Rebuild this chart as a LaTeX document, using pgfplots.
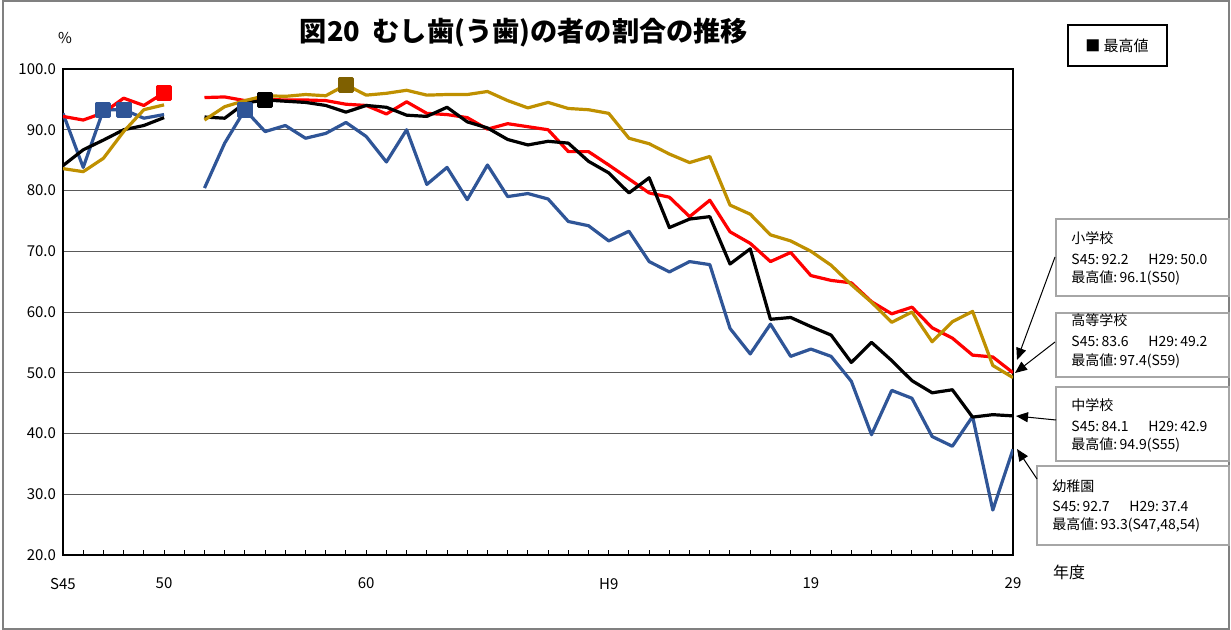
\documentclass[border=0pt]{standalone}
\usepackage{fontspec}
\setmainfont{Noto Sans CJK JP}
\usepackage{pgfplots}
\pgfplotsset{compat=1.18}
\usepackage{pgfplotstable}
\usetikzlibrary{arrows.meta}
\definecolor{kblue}{HTML}{2F5597}
\definecolor{kgold}{HTML}{BF9000}
\definecolor{kdark}{HTML}{7F6000}

% year, 小学校, 中学校, 高等学校, 幼稚園 (%)
\pgfplotstableread{
year sho chu ko yo
1970 92.2 84.1 83.6 92.7
1971 91.6 86.7 83.1 83.8
1972 92.8 88.3 85.3 93.3
1973 95.2 90.0 89.7 93.3
1974 94.0 90.7 93.3 91.9
1975 96.1 92.0 94.1 92.5
1976 nan nan nan nan
1977 95.3 92.1 91.6 80.4
1978 95.4 91.9 93.8 87.8
1979 94.8 94.4 94.8 93.3
1980 95.0 94.9 95.6 89.7
1981 94.9 94.7 95.5 90.7
1982 94.9 94.5 95.8 88.6
1983 94.8 94.0 95.6 89.4
1984 94.2 92.9 97.4 91.2
1985 94.0 94.0 95.7 88.9
1986 92.6 93.7 96.0 84.7
1987 94.6 92.4 96.5 90.0
1988 92.7 92.2 95.7 81.0
1989 92.5 93.7 95.8 83.8
1990 92.0 91.3 95.8 78.5
1991 90.1 90.3 96.3 84.2
1992 91.0 88.4 94.8 79.0
1993 90.5 87.5 93.6 79.5
1994 90.0 88.1 94.5 78.6
1995 86.4 87.8 93.5 74.9
1996 86.4 84.8 93.3 74.2
1997 84.2 82.9 92.7 71.7
1998 81.9 79.6 88.6 73.3
1999 79.6 82.1 87.7 68.3
2000 78.9 73.9 86.0 66.6
2001 75.7 75.3 84.6 68.3
2002 78.4 75.7 85.6 67.8
2003 73.2 67.9 77.6 57.3
2004 71.3 70.4 76.1 53.1
2005 68.3 58.8 72.7 58.0
2006 69.8 59.1 71.7 52.7
2007 66.0 57.6 70.0 53.9
2008 65.2 56.2 67.7 52.7
2009 64.8 51.7 64.5 48.6
2010 61.7 55.0 61.6 39.8
2011 59.7 52.0 58.3 47.1
2012 60.8 48.7 60.0 45.8
2013 57.4 46.7 55.1 39.5
2014 55.7 47.2 58.4 37.9
2015 52.9 42.7 60.1 42.8
2016 52.6 43.1 51.2 27.4
2017 50.0 42.9 49.2 37.4
}\rates

\begin{document}
\begin{tikzpicture}
\useasboundingbox (0,0) rectangle (615.5pt,-315pt);
\begin{axis}[
    at={(31.5pt,-277.5pt)}, anchor=south west,
    scale only axis, width=475pt, height=243pt,
    xmin=1970, xmax=2017, ymin=20, ymax=100,
    xtick={1970,1975,1985,1997,2007,2017},
    xticklabels={S45,50,60,H9,19,29},
    minor xtick={1970,...,2017},
    ytick={20,30,...,100},
    ymajorgrids,
    grid style={black!65, line width=0.5pt},
    axis line style={black, line width=0.6pt},
    tick align=inside, xtick pos=left,
    major tick length=2.5pt, minor tick length=2.5pt,
    xtick style={black, line width=0.5pt},
    ytick style={draw=none},
    unbounded coords=jump,
    /pgf/number format/assume math mode=true,
    ticklabel style={font=\fontsize{7.5}{9}\selectfont},
    xticklabel style={yshift=-8pt},
    yticklabel style={/pgf/number format/fixed,/pgf/number format/fixed zerofill,/pgf/number format/precision=1},
    every axis plot/.append style={line width=1.6pt, line join=round},
]
\addplot[kblue, no marks] table[x=year,y=yo]{\rates};
\addplot[red, no marks] table[x=year,y=sho]{\rates};
\addplot[black, no marks] table[x=year,y=chu]{\rates};
\addplot[kgold, no marks] table[x=year,y=ko]{\rates};
\addplot[only marks, mark=square*, mark size=3.2pt, kblue] coordinates {(1972,93.3) (1973,93.3) (1979,93.3)};
\addplot[only marks, mark=square*, mark size=3.2pt, red] coordinates {(1975,96.1)};
\addplot[only marks, mark=square*, mark size=3.2pt, black] coordinates {(1980,94.9)};
\addplot[only marks, mark=square*, mark size=3.2pt, kdark] coordinates {(1984,97.4)};
\end{axis}
\begin{scope}[x=0.5pt,y=-0.5pt]
\draw[black!50, line width=0.6pt] (3,1) rectangle (1229,629);
\node[font=\fontsize{13.6}{16}\selectfont\bfseries] at (524,33) {図20\ \ むし歯(う歯)の者の割合の推移};
\node[font=\fontsize{7.5}{9}\selectfont] at (65,38) {\%};
\node[font=\fontsize{8}{9}\selectfont] at (1069,572) {年度};
\draw[black, line width=0.7pt] (1068,25) rectangle (1167,66);
\node[font=\fontsize{7.5}{9}\selectfont] at (1117,46) {■\ 最高値};
% annotation boxes
\tikzset{abox/.style={draw=black!35, line width=0.6pt, fill=white},
         atxt/.style={anchor=west, inner sep=0pt, font=\fontsize{7}{8}\selectfont},
         aarr/.style={black, line width=0.5pt, -{Triangle[length=6pt,width=5pt]}}}
\draw[abox] (1056,219) rectangle (1229,296);
\node[atxt] at (1071,238) {小学校};
\node[atxt] at (1071,259) {S45:\,92.2\hspace{1.4em}H29:\,50.0};
\node[atxt] at (1071,278) {最高値:\,96.1(S50)};
\draw[abox] (1056,313) rectangle (1229,377);
\node[atxt] at (1071,320) {高等学校};
\node[atxt] at (1071,341) {S45:\,83.6\hspace{1.4em}H29:\,49.2};
\node[atxt] at (1071,361) {最高値:\,97.4(S59)};
\draw[abox] (1056,387) rectangle (1229,461);
\node[atxt] at (1071,405) {中学校};
\node[atxt] at (1071,426) {S45:\,84.1\hspace{1.4em}H29:\,42.9};
\node[atxt] at (1071,445) {最高値:\,94.9(S55)};
\draw[abox] (1037,466) rectangle (1229,545);
\node[atxt] at (1052,486) {幼稚園};
\node[atxt] at (1052,506) {S45:\,92.7\hspace{1.4em}H29:\,37.4};
\node[atxt] at (1052,525) {最高値:\,93.3(S47,48,54)};
\draw[aarr] (1055,257) -- (1017,360);
\draw[aarr] (1055,342) -- (1015,373);
\draw[aarr] (1056,420) -- (1016,416);
\draw[aarr] (1037,479) -- (1017,449);
\end{scope}
\end{tikzpicture}
\end{document}
